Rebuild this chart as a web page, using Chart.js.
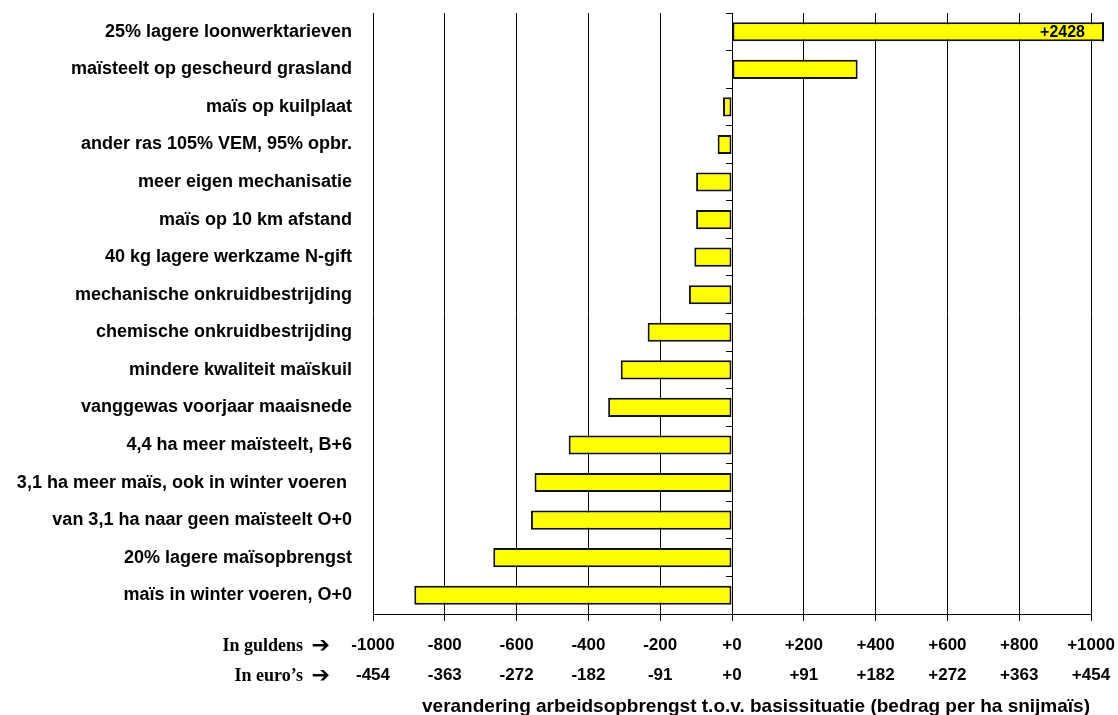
<!DOCTYPE html>
<html>
<head>
<meta charset="utf-8">
<script src="https://cdn.jsdelivr.net/npm/chart.js@4"></script>
<style>
  html, body { margin: 0; padding: 0; background: #fff; }
  #wrap { width: 1118px; height: 715px; position: relative; }
</style>
</head>
<body>
<div id="wrap"><canvas id="c" width="1118" height="715"></canvas></div>
<script>
// Scenario's en verandering van de arbeidsopbrengst (gulden per ha snijmaïs)
const scenarios = [
  "25% lagere loonwerktarieven",
  "maïsteelt op gescheurd grasland",
  "maïs op kuilplaat",
  "ander ras 105% VEM, 95% opbr.",
  "meer eigen mechanisatie",
  "maïs op 10 km afstand",
  "40 kg lagere werkzame N-gift",
  "mechanische onkruidbestrijding",
  "chemische onkruidbestrijding",
  "mindere kwaliteit maïskuil",
  "vanggewas voorjaar maaisnede",
  "4,4 ha meer maïsteelt, B+6",
  "3,1 ha meer maïs, ook in winter voeren ",
  "van 3,1 ha naar geen maïsteelt O+0",
  "20% lagere maïsopbrengst",
  "maïs in winter voeren, O+0"
];
const verandering = [2428, 350, -25, -40, -100, -100, -105, -120, -235, -310, -345, -455, -550, -560, -665, -885];

// As-labels: guldens en de omgerekende bedragen in euro's
const guldenTicks = [-1000, -800, -600, -400, -200, 0, 200, 400, 600, 800, 1000];
const guldenLabels = ["-1000", "-800", "-600", "-400", "-200", "+0", "+200", "+400", "+600", "+800", "+1000"];
const euroLabels = ["-454", "-363", "-272", "-182", "-91", "+0", "+91", "+182", "+272", "+363", "+454"];
const rowTitles = ["In guldens", "In euro\u2019s"];
const axisTitle = "verandering arbeidsopbrengst t.o.v. basissituatie (bedrag per ha snijmaïs)";

const SANS = "'Liberation Sans', Arial, sans-serif";
const SERIF = "'Liberation Serif', 'Times New Roman', serif";
const OVERRUN = 13;       // pixels a bar beyond the axis end may extend
const TICK_LEN = 7, TICK_PAD = 9, TICK_SIZE = 17, TICK_LH = 30 / 17;

// Bars beyond the axis end: closing edge plus their value written inside
const overrunPlugin = {
  id: 'overrun',
  afterDatasetsDraw(chart) {
    const xs = chart.scales.x;
    const ctx = chart.ctx;
    const meta = chart.getDatasetMeta(0);
    const edge = chart.chartArea.right + OVERRUN;
    meta.data.forEach((bar, i) => {
      const v = verandering[i];
      if (v <= xs.max) return;
      const top = bar.y - bar.height / 2;
      ctx.save();
      ctx.fillStyle = '#000';
      ctx.fillRect(edge - 2, top, 2, bar.height);
      ctx.font = "bold 16px " + SANS;
      ctx.textAlign = 'right';
      ctx.textBaseline = 'middle';
      ctx.fillText('+' + v, edge - 19, bar.y + 1);
      ctx.restore();
    });
  }
};

// Row titles in front of the two rows of x-axis labels, and the axis caption
const captionPlugin = {
  id: 'captions',
  afterDraw(chart) {
    const ctx = chart.ctx;
    const xs = chart.scales.x;
    const area = chart.chartArea;
    const lh = TICK_SIZE * TICK_LH;
    const y0 = xs.top + TICK_LEN + TICK_PAD + lh / 2;
    const arrowRight = area.left - 43;
    ctx.save();
    ctx.fillStyle = '#000';
    ctx.textBaseline = 'middle';
    rowTitles.forEach((t, i) => {
      const y = y0 + i * lh + 1;
      ctx.textAlign = 'right';
      ctx.font = "bold 22px 'DejaVu Sans', sans-serif";
      ctx.fillText('\u2794', arrowRight, y);
      ctx.font = "bold 18px " + SERIF;
      ctx.fillText(t, arrowRight - 27, y);
    });
    ctx.font = "bold 19px " + SANS;
    ctx.textAlign = 'center';
    ctx.fillText(axisTitle, (area.left + area.right) / 2 + 24, chart.height - 8);
    ctx.restore();
  }
};

new Chart(document.getElementById('c'), {
  type: 'bar',
  data: {
    labels: scenarios,
    datasets: [{
      data: verandering,
      backgroundColor: '#ffff00',
      borderColor: '#111',
      borderWidth: 2,
      borderSkipped: false,
      barPercentage: 0.51,
      categoryPercentage: 1.0,
      clip: { left: 0, top: 0, right: OVERRUN, bottom: 0 }
    }]
  },
  options: {
    indexAxis: 'y',
    responsive: false,
    animation: false,
    devicePixelRatio: 1,
    layout: { padding: { left: 0, right: 27, top: 13, bottom: 0 } },
    plugins: { legend: { display: false }, tooltip: { enabled: false } },
    scales: {
      x: {
        type: 'linear',
        min: -1000,
        max: 1000,
        afterBuildTicks: (s) => { s.ticks = guldenTicks.map(v => ({ value: v })); },
        afterFit: (s) => { s.height = 101; s.paddingLeft = 0; s.paddingRight = 0; },
        grid: { color: '#000', lineWidth: 1, drawTicks: true, tickLength: TICK_LEN },
        border: { display: true, color: '#000', width: 1 },
        ticks: {
          color: '#000',
          padding: TICK_PAD,
          maxRotation: 0,
          autoSkip: false,
          font: { family: SANS, size: TICK_SIZE, weight: 'bold', lineHeight: TICK_LH },
          callback: (value) => {
            const i = guldenTicks.indexOf(value);
            return [guldenLabels[i], euroLabels[i]];
          }
        }
      },
      y: {
        type: 'category',
        position: 'left',
        afterFit: (s) => { s.width = 373; s.paddingTop = 0; s.paddingBottom = 0; },
        grid: { display: false, drawTicks: false },
        border: { display: false },
        ticks: {
          color: '#000',
          padding: 21,
          autoSkip: false,
          font: { family: SANS, size: 18, weight: 'bold' }
        }
      },
      yZero: {
        type: 'category',
        axis: 'y',
        position: { x: 0 },
        offset: true,
        afterFit: (s) => { s.width = 0; s.paddingTop = 0; s.paddingBottom = 0; },
        grid: { display: true, drawOnChartArea: false, drawTicks: true, tickLength: 6, color: '#000', offset: true },
        border: { display: false },
        ticks: { display: false }
      }
    }
  },
  plugins: [overrunPlugin, captionPlugin]
});
</script>
</body>
</html>
